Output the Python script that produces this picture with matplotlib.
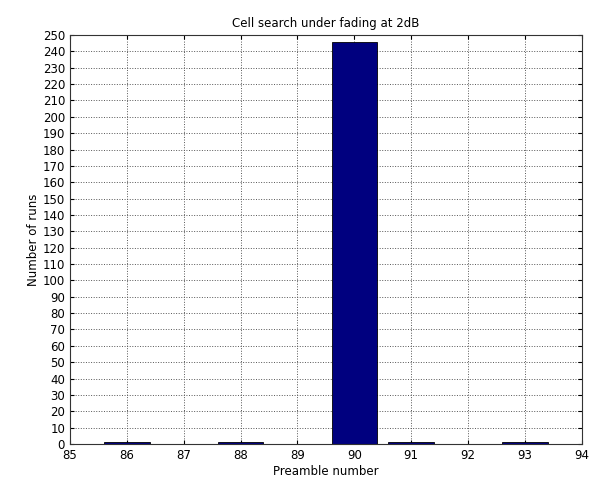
import matplotlib
matplotlib.use("Agg")
import matplotlib.pyplot as plt

# ── Data ──────────────────────────────────────────────
preambles = [86, 88, 90, 91, 93]
runs = [1, 1, 246, 1, 1]

x_ticks = list(range(85, 95))
y_ticks = list(range(0, 251, 10))

# ── Plot ──────────────────────────────────────────────
fig = plt.figure(figsize=(5.98, 4.91), dpi=100)
ax = fig.add_axes([0.117, 0.0957, 0.856, 0.833])

ax.bar(preambles, runs, width=0.8, color="#00007f", edgecolor="black", linewidth=0.6)

ax.set_xlim(85, 94)
ax.set_ylim(0, 250)
ax.set_xticks(x_ticks)
ax.set_yticks(y_ticks)
ax.tick_params(labelsize=8.5, direction="in", length=3)
ax.tick_params(top=True, right=True)
ax.grid(True, linestyle=":", color="#555555", linewidth=0.7)
ax.set_axisbelow(True)
for s in ax.spines.values():
    s.set_color("#333333")

ax.set_title("Cell search under fading at 2dB", fontsize=8.5)
ax.set_xlabel("Preamble number", fontsize=8.5, labelpad=2)
ax.set_ylabel("Number of runs", fontsize=8.5, labelpad=2)

fig.savefig("out.png", dpi=100)
